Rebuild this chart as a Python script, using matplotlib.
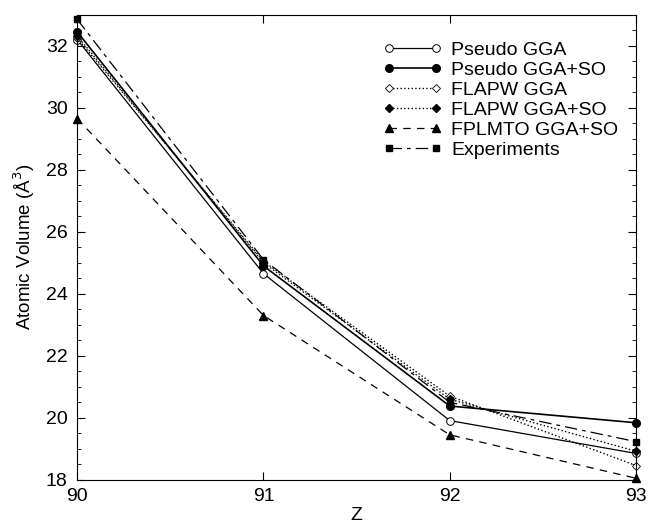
import matplotlib
matplotlib.use("Agg")
import matplotlib.pyplot as plt
from matplotlib.ticker import MultipleLocator

plt.rcParams['font.family'] = ['Liberation Sans', 'DejaVu Sans']

z = [90, 91, 92, 93]
pseudo_gga = [32.2, 24.65, 19.91, 18.85]
pseudo_gga_so = [32.45, 24.9, 20.38, 19.84]
flapw_gga = [32.25, 25.05, 20.7, 18.46]
flapw_gga_so = [32.32, 25.0, 20.6, 18.92]
fplmto_gga_so = [29.65, 23.3, 19.45, 18.05]
experiments = [32.85, 25.1, 20.5, 19.23]

fig = plt.figure(figsize=(6.49, 5.29), dpi=100)
ax = fig.add_axes([0.119, 0.093, 0.861, 0.879])

kw = dict(color='black', clip_on=False)
ax.plot(z, pseudo_gga, '-', lw=0.9, marker='o', ms=5.5, mfc='white', mew=0.7, label='Pseudo GGA', **kw)
ax.plot(z, pseudo_gga_so, '-', lw=1.2, marker='o', ms=5.5, label='Pseudo GGA+SO', **kw)
ax.plot(z, flapw_gga, ':', lw=1.0, marker='D', ms=4, mfc='white', mew=0.6, label='FLAPW GGA', **kw)
ax.plot(z, flapw_gga_so, ':', lw=1.0, marker='D', ms=4, label='FLAPW GGA+SO', **kw)
ax.plot(z, fplmto_gga_so, '--', lw=0.9, dashes=(6, 5), marker='^', ms=5.5, label='FPLMTO GGA+SO', **kw)
ax.plot(z, experiments, '-.', lw=0.9, dashes=(10, 4, 3, 4), marker='s', ms=5, label='Experiments', **kw)

ax.set_xlim(90, 93)
ax.set_ylim(18, 33)
ax.set_xticks(z)
ax.yaxis.set_major_locator(MultipleLocator(2))
ax.yaxis.set_minor_locator(MultipleLocator(0.5))
ax.tick_params(axis='both', which='both', direction='in', top=True, right=True, labelsize=14)
ax.tick_params(which='major', length=6)
ax.tick_params(which='minor', length=3)
ax.tick_params(axis='x', which='major', pad=6)
ax.tick_params(axis='y', which='major', pad=7)

ax.set_xlabel('Z', fontsize=14, labelpad=1)
ax.set_ylabel('Atomic Volume (Å$^3$)', fontsize=13.5, labelpad=6)

ax.legend(loc='upper right', bbox_to_anchor=(1.0, 0.98), frameon=False, fontsize=14,
          numpoints=2, handlelength=3.0, handletextpad=0.5, labelspacing=0.12)

fig.savefig('out.png', dpi=100)
